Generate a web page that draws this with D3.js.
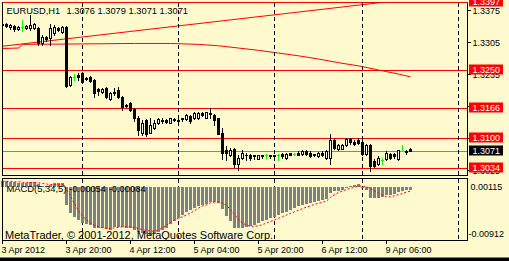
<!DOCTYPE html>
<html><head><meta charset="utf-8">
<script src="https://cdn.jsdelivr.net/npm/d3@7"></script>
<style>
html,body{margin:0;padding:0;background:#FFFACD;overflow:hidden}
svg{display:block}
text{font-family:"Liberation Sans",Arial,sans-serif;font-size:9px;fill:#000}
</style></head><body>
<svg id="c" width="509" height="261"></svg>
<script>
// ---------------- DATA ----------------
const symbolLabel = "EURUSD,H1";
const lastOHLC = [1.3076, 1.3079, 1.3071, 1.3071];
const opens = [1.3349,1.3349,1.3343,1.3345,1.3338,1.3343,1.3341,1.3341,1.3341,1.3341,
1.3308,1.3321,1.3319,1.3330,1.3341,1.3332,1.3343,1.3216,1.3233,1.3237,
1.3242,1.3231,1.3233,1.3227,1.3207,1.3200,1.3209,1.3185,1.3200,1.3205,
1.3189,1.3172,1.3176,1.3163,1.3145,1.3112,1.3139,1.3112,1.3123,1.3132,
1.3139,1.3139,1.3134,1.3141,1.3140,1.3143,1.3141,1.3148,1.3143,1.3143,
1.3154,1.3145,1.3154,1.3150,1.3143,1.3112,1.3075,1.3064,1.3077,1.3044,
1.3057,1.3064,1.3064,1.3062,1.3055,1.3062,1.3062,1.3063,1.3062,1.3062,
1.3066,1.3057,1.3067,1.3066,1.3068,1.3066,1.3071,1.3068,1.3066,1.3060,
1.3068,1.3057,1.3057,1.3095,1.3077,1.3077,1.3084,1.3097,1.3092,1.3095,
1.3092,1.3066,1.3086,1.3051,1.3044,1.3053,1.3055,1.3066,1.3066,1.3055,
1.3071,1.3072,1.3076];
const highs = [1.3352,1.3352,1.3349,1.3347,1.3345,1.3358,1.3347,1.3369,1.3352,1.3343,
1.3325,1.3323,1.3349,1.3347,1.3343,1.3345,1.3345,1.3235,1.3240,1.3242,
1.3244,1.3233,1.3235,1.3229,1.3209,1.3209,1.3211,1.3200,1.3209,1.3211,
1.3191,1.3174,1.3178,1.3165,1.3148,1.3139,1.3141,1.3143,1.3139,1.3143,
1.3145,1.3141,1.3145,1.3143,1.3143,1.3145,1.3152,1.3150,1.3156,1.3156,
1.3156,1.3158,1.3165,1.3152,1.3145,1.3123,1.3082,1.3079,1.3079,1.3062,
1.3075,1.3068,1.3066,1.3064,1.3064,1.3064,1.3066,1.3064,1.3064,1.3066,
1.3068,1.3068,1.3068,1.3068,1.3071,1.3073,1.3075,1.3071,1.3066,1.3069,
1.3071,1.3073,1.3110,1.3099,1.3088,1.3088,1.3101,1.3101,1.3095,1.3101,
1.3095,1.3088,1.3088,1.3055,1.3060,1.3057,1.3071,1.3068,1.3068,1.3075,
1.3084,1.3073,1.3079];
const lows = [1.3345,1.3343,1.3338,1.3334,1.3336,1.3334,1.3338,1.3336,1.3338,1.3303,
1.3303,1.3312,1.3303,1.3325,1.3334,1.3330,1.3211,1.3213,1.3227,1.3227,
1.3220,1.3227,1.3222,1.3189,1.3194,1.3198,1.3187,1.3183,1.3194,1.3187,
1.3161,1.3167,1.3159,1.3137,1.3106,1.3106,1.3104,1.3111,1.3121,1.3130,
1.3132,1.3134,1.3132,1.3137,1.3134,1.3137,1.3139,1.3134,1.3141,1.3141,
1.3148,1.3143,1.3145,1.3128,1.3108,1.3055,1.3053,1.3060,1.3036,1.3031,
1.3055,1.3053,1.3053,1.3055,1.3054,1.3057,1.3057,1.3057,1.3060,1.3053,
1.3057,1.3055,1.3062,1.3064,1.3062,1.3064,1.3064,1.3059,1.3060,1.3059,
1.3060,1.3055,1.3044,1.3077,1.3075,1.3076,1.3082,1.3088,1.3086,1.3088,
1.3062,1.3064,1.3029,1.3036,1.3042,1.3044,1.3053,1.3055,1.3057,1.3053,
1.3071,1.3066,1.3071];
const closes = [1.3347,1.3345,1.3347,1.3338,1.3343,1.3343,1.3345,1.3347,1.3349,1.3308,
1.3321,1.3317,1.3341,1.3343,1.3336,1.3343,1.3213,1.3233,1.3233,1.3233,
1.3222,1.3229,1.3224,1.3198,1.3202,1.3207,1.3189,1.3198,1.3198,1.3189,
1.3167,1.3170,1.3161,1.3143,1.3117,1.3134,1.3110,1.3128,1.3134,1.3141,
1.3137,1.3136,1.3143,1.3139,1.3138,1.3141,1.3150,1.3137,1.3154,1.3154,
1.3150,1.3156,1.3152,1.3139,1.3110,1.3068,1.3068,1.3075,1.3044,1.3057,
1.3068,1.3062,1.3057,1.3060,1.3062,1.3060,1.3062,1.3060,1.3061,1.3062,
1.3060,1.3066,1.3064,1.3066,1.3064,1.3071,1.3066,1.3060,1.3062,1.3068,
1.3062,1.3071,1.3095,1.3079,1.3086,1.3086,1.3099,1.3092,1.3088,1.3090,
1.3066,1.3086,1.3040,1.3040,1.3057,1.3053,1.3068,1.3057,1.3060,1.3073,
1.3071,1.3069,1.3071];

// moving average (read at selected bars) and trend line
const maIndex  = [0,4,5,20,33,42,49,54,59,64,69,74,79,84,89,94,99,102];
const maValues = [1.3296,1.3297,1.3305,1.3306,1.3307,1.3307,1.3305,1.3302,1.3297,1.3292,1.3286,1.3280,1.3273,1.3265,1.3258,1.3249,1.3240,1.3234];
const trendIndex  = [0, 102];
const trendValues = [1.3301, 1.3404];

// horizontal levels and bid
const levelPrices = [1.3397, 1.3250, 1.3166, 1.3100, 1.3034];
const bidPrice = 1.3071;
const priceTicks = [1.3375, 1.3305, 1.3235, 1.3165, 1.3095, 1.3025];

// MACD(5,34,5)
const macdMain = [0.0011,0.0010,0.0009,0.0008,0.0007,0.0007,0.0007,0.0008,0.0009,0.0005,
0.0002,0.0001,0.0004,0.0006,0.0006,0.0007,-0.0034,-0.0050,-0.0056,-0.0062,
-0.0068,-0.0070,-0.0072,-0.0078,-0.0078,-0.0078,-0.0079,-0.0080,-0.0075,-0.0075,
-0.0076,-0.0077,-0.0078,-0.0080,-0.0084,-0.0087,-0.0089,-0.0091,-0.0089,-0.0085,
-0.0081,-0.0077,-0.0070,-0.0065,-0.0058,-0.0052,-0.0047,-0.0044,-0.0040,-0.0037,
-0.0035,-0.0032,-0.0029,-0.0028,-0.0031,-0.0042,-0.0055,-0.0065,-0.0078,-0.0078,
-0.0077,-0.0075,-0.0073,-0.0072,-0.0067,-0.0065,-0.0062,-0.0059,-0.0056,-0.0052,
-0.0050,-0.0047,-0.0044,-0.0040,-0.0037,-0.0035,-0.0033,-0.0031,-0.0029,-0.0027,
-0.0025,-0.0023,-0.0012,-0.0009,-0.0008,-0.0006,-0.0003,0.0001,0.0004,0.0005,
-0.0002,-0.0006,-0.0021,-0.0022,-0.0022,-0.0019,-0.0016,-0.0016,-0.0014,-0.0010,
-0.0008,-0.0006,-0.00054];
const macdSignal = [0.0010,0.0010,0.0010,0.0009,0.0009,0.0008,0.0008,0.0008,0.0008,0.0007,
0.0006,0.0005,0.0004,0.0004,0.0004,0.0005,-0.0005,-0.0018,-0.0032,-0.0045,
-0.0055,-0.0062,-0.0068,-0.0072,-0.0075,-0.0077,-0.0078,-0.0078,-0.0077,-0.0076,
-0.0075,-0.0075,-0.0075,-0.0076,-0.0078,-0.0080,-0.0082,-0.0083,-0.0083,-0.0081,
-0.0077,-0.0072,-0.0067,-0.0062,-0.0059,-0.0056,-0.0053,-0.0049,-0.0045,-0.0040,
-0.0036,-0.0034,-0.0030,-0.0029,-0.0029,-0.0031,-0.0035,-0.0043,-0.0052,-0.0062,
-0.0068,-0.0072,-0.0074,-0.0074,-0.0073,-0.0071,-0.0068,-0.0065,-0.0062,-0.0059,
-0.0056,-0.0053,-0.0050,-0.0047,-0.0044,-0.0041,-0.0038,-0.0036,-0.0033,-0.0031,
-0.0029,-0.0027,-0.0020,-0.0015,-0.0011,-0.0008,-0.0005,-0.0003,-0.0001,0.0001,
0.0001,0.0000,-0.0004,-0.0008,-0.0012,-0.0016,-0.0019,-0.0019,-0.0017,-0.0015,
-0.0013,-0.0010,-0.00084];
const macdTicks = [0.00115, -0.00912];

// time axis
const timeTickIndex = [0,16,32,48,64,80,96];
const timeTickLabels = ["3 Apr 2012","3 Apr 20:00","4 Apr 12:00","5 Apr 04:00","5 Apr 20:00","6 Apr 12:00","9 Apr 06:00"];
const daySeparatorIndex = [20,44,68,90,114];

// ---------------- LAYOUT ----------------
const L = 2.5, R = 467.5, mainTop = 2.5, mainBottom = 175.5, subTop = 178.5, subBottom = 240.5;
const bg = "#FFFACD";
const svg = d3.select("#c");
svg.append("rect").attr("width",509).attr("height",261).attr("fill",bg);

const n = opens.length;
const x = d3.scaleLinear().domain([0, n-1]).range([2.5, 2.5 + 4*(n-1)]);
const y = d3.scaleLinear().domain([1.30182, 1.33966]).range([mainBottom, mainTop]);
const ym = d3.scaleLinear().domain([-0.00912, 0.00115]).range([235.5, 180.5]);
const py = v => Math.round(y(v)) + 0.5;
const fmt4 = d3.format(".4f");
const fmt5 = v => d3.format(".5f")(v).replace("\u2212","-");

const main = svg.append("g").attr("shape-rendering","crispEdges");
main.append("defs").append("clipPath").attr("id","mclip").append("rect")
  .attr("x",L).attr("y",mainTop).attr("width",R-L).attr("height",mainBottom-mainTop);
const mg = main.append("g").attr("clip-path","url(#mclip)");

// day separators (both panels)
daySeparatorIndex.forEach(i => {
  [[mainTop, mainBottom],[subTop, subBottom]].forEach(([a,b]) => {
    main.append("line").attr("x1",x(i)).attr("x2",x(i)).attr("y1",a).attr("y2",b)
      .attr("stroke","#000").attr("stroke-dasharray","4,3");
  });
});

// MA & trend
const lineGen = d3.line().x(d=>x(d[0])).y(d=>y(d[1]));
mg.append("path").datum(maIndex.map((d,k)=>[d,maValues[k]])).attr("d",lineGen)
  .attr("fill","none").attr("stroke","#FF0000").attr("stroke-width",1).attr("shape-rendering","auto");
mg.append("path").datum(trendIndex.map((d,k)=>[d,trendValues[k]])).attr("d",lineGen)
  .attr("fill","none").attr("stroke","#FF0000").attr("stroke-width",1).attr("shape-rendering","auto");

// levels
levelPrices.forEach(p => {
  const yy = Math.max(py(p), mainTop);
  mg.append("line").attr("x1",L).attr("x2",R).attr("y1",yy).attr("y2",yy).attr("stroke","#FF0000");
});
mg.append("line").attr("x1",L).attr("x2",R).attr("y1",py(bidPrice)).attr("y2",py(bidPrice)).attr("stroke","#778899");

// candles
const cg = mg.append("g");
for (let i=0;i<n;i++){
  const o=opens[i], h=highs[i], l=lows[i], c=closes[i];
  const cx = x(i);
  const yo=Math.round(y(o)), yc=Math.round(y(c)), yh=Math.round(y(h)), yl=Math.round(y(l));
  if (o === c) {
    cg.append("line").attr("x1",cx).attr("x2",cx).attr("y1",yh).attr("y2",yl+1).attr("stroke","#00FF00");
    cg.append("line").attr("x1",cx-1.5).attr("x2",cx+1.5).attr("y1",yo+0.5).attr("y2",yo+0.5).attr("stroke","#00FF00");
  } else {
    cg.append("line").attr("x1",cx).attr("x2",cx).attr("y1",yh).attr("y2",yl+1).attr("stroke","#000");
    const top=Math.min(yo,yc), bot=Math.max(yo,yc);
    if (c < o) {
      cg.append("rect").attr("x",cx-1.5).attr("y",top).attr("width",3).attr("height",bot-top+1).attr("fill","#000");
    } else {
      cg.append("rect").attr("x",cx-1).attr("y",top+0.5).attr("width",2).attr("height",bot-top)
        .attr("fill","#FFFFFF").attr("stroke","#000");
    }
  }
}

// MACD panel
const sg = main.append("g");
const z0 = ym(0);
macdMain.forEach((v,i) => {
  const yv = Math.round(ym(v)), yz = Math.round(z0);
  sg.append("rect").attr("x",x(i)-1.5).attr("y",Math.min(yv,yz)).attr("width",3)
    .attr("height",Math.max(1,Math.abs(yv-yz))).attr("fill","#808080");
});
sg.append("path").datum(macdSignal.map((v,i)=>[i,v]))
  .attr("d", d3.line().x(d=>x(d[0])).y(d=>ym(d[1])))
  .attr("fill","none").attr("stroke","#FF0000").attr("stroke-dasharray","2,2").attr("shape-rendering","auto");

// frames
main.append("rect").attr("x",L).attr("y",mainTop).attr("width",R-L).attr("height",mainBottom-mainTop)
  .attr("fill","none").attr("stroke","#000");
main.append("rect").attr("x",L).attr("y",subTop).attr("width",R-L).attr("height",subBottom-subTop)
  .attr("fill","none").attr("stroke","#000");
main.append("line").attr("x1",L).attr("x2",R).attr("y1",Math.max(py(levelPrices[0]),mainTop)).attr("y2",Math.max(py(levelPrices[0]),mainTop)).attr("stroke","#FF0000");

// texts
svg.append("text").attr("x",6.5).attr("y",14).style("font-size","9.3px").text(symbolLabel);
svg.append("text").attr("x",66.5).attr("y",14).style("font-size","9.3px").text(lastOHLC.map(fmt4).join(" "));
svg.append("text").attr("x",6.5).attr("y",192).style("font-size","9.4px")
  .text("MACD(5,34,5) " + fmt5(macdMain[n-1]) + " " + fmt5(macdSignal[n-1]));
svg.append("text").attr("x",5).attr("y",238.5).style("font-size","11px")
  .text("MetaTrader, © 2001-2012, MetaQuotes Software Corp.");

// right price axis
const ax = svg.append("g");
priceTicks.forEach(t => {
  const yy = Math.round(y(t)) - 1.5;
  ax.append("line").attr("x1",R).attr("x2",R+3).attr("y1",yy).attr("y2",yy).attr("stroke","#000").attr("shape-rendering","crispEdges");
  ax.append("text").attr("x",472.5).attr("y",yy+3.5).text(fmt4(t));
});
levelPrices.forEach(p => {
  const yy = Math.max(py(p), mainTop);
  ax.append("rect").attr("x",469).attr("y",yy-6).attr("width",34).attr("height",10).attr("fill","#FF0000");
  ax.append("text").attr("x",472.5).attr("y",yy+2.5).style("fill","#fff").text(fmt4(p));
});
{
  const yy = py(bidPrice);
  ax.append("rect").attr("x",469).attr("y",yy-6).attr("width",34).attr("height",10).attr("fill","#000");
  ax.append("text").attr("x",472.5).attr("y",yy+2.5).style("fill","#fff").text(fmt4(bidPrice));
}
// MACD scale labels
ax.append("text").attr("x",470.5).attr("y",190).text(fmt5(macdTicks[0]));
ax.append("text").attr("x",468.5).attr("y",236.5).text(fmt5(macdTicks[1]));

// time axis
timeTickIndex.forEach((i,k) => {
  ax.append("line").attr("x1",x(i)).attr("x2",x(i)).attr("y1",subBottom).attr("y2",subBottom+3.5)
    .attr("stroke","#000").attr("shape-rendering","crispEdges");
  ax.append("text").attr("x",x(i)-1).attr("y",252.5).text(timeTickLabels[k]);
});

// bottom strip
svg.append("rect").attr("x",0).attr("y",257.5).attr("width",509).attr("height",4).attr("fill","#000");
</script></body></html>
